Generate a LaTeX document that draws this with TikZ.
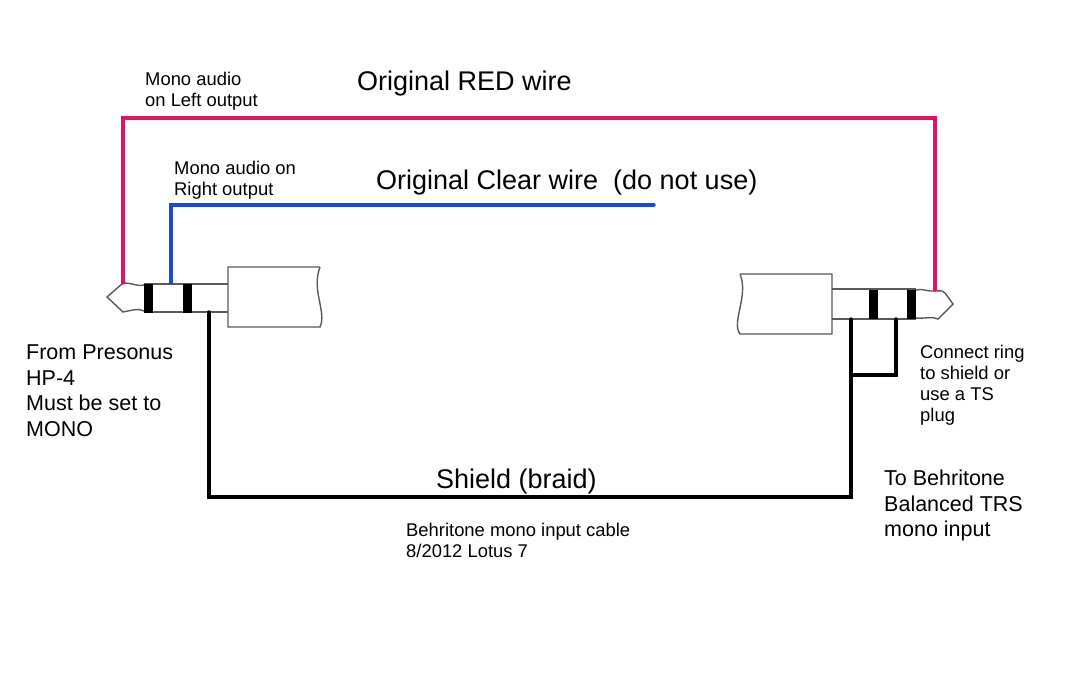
\documentclass[tikz,border=0pt]{standalone}
\usepackage{fontspec}
\setmainfont{Liberation Sans}
\begin{document}
\begin{tikzpicture}[x=1pt, y=-1pt,
    plugline/.style={draw=black!65, line width=1.4pt},
    band/.style={fill=black, draw=none, inner sep=0pt, minimum width=9pt, minimum height=29pt},
    wire/.style={line width=3.4pt, line cap=round, line join=miter},
    title/.style={anchor=base west, inner sep=0pt, font=\fontsize{27}{30}\selectfont},
    midlabel/.style={anchor=north west, inner sep=0pt, align=left, font=\fontsize{21.5}{25.4}\selectfont},
    smalllabel/.style={anchor=north west, inner sep=0pt, align=left, font=\fontsize{18.4}{21}\selectfont}
]
\useasboundingbox (0,0) rectangle (1079,683);

% left plug
\draw[plugline] (144,284) -- (228,284) (144,312) -- (228,312);
\draw[plugline] (144,285) .. controls (138,287) and (134,283) .. (123,283) -- (107,297) -- (123,312) .. controls (134,310) and (138,308) .. (144,311);
\draw[plugline] (320,267) -- (228,267) -- (228,327) -- (320,327) .. controls (327,312) and (311,290) .. (320,267);
\node[band] (bandLa) at (148.5,298) {};
\node[band] (bandLb) at (187,298) {};

% right plug
\draw[plugline] (832,289) -- (916,289) (832,319) -- (916,319);
\draw[plugline] (916,290) .. controls (922,288) and (928,292) .. (935,291) .. controls (940,291) and (942,290) .. (945,293) -- (953,304) -- (938,319) .. controls (932,316) and (924,319) .. (916,318);
\draw[plugline] (740,274) -- (832,274) -- (832,334) -- (740,334) .. controls (731,322) and (749,296) .. (740,274);
\node[band] (bandRa) at (873.5,304) {};
\node[band] (bandRb) at (911.5,304) {};

% wires
\coordinate (redL) at (123,283);
\coordinate (redR) at (935,290);
\coordinate (blueL) at (171,283);
\coordinate (blueEnd) at (654,205);
\coordinate (shieldL) at (209,312);
\coordinate (shieldR) at (851,319);
\coordinate (ringR) at (896,319);
\coordinate (ringJoin) at (851,375);
\draw[wire, color={rgb,255:red,226;green,18;blue,96}] (redL) |- (redR |- 0,118) -- (redR);
\draw[wire, color={rgb,255:red,28;green,72;blue,218}] (blueL) |- (blueEnd);
\draw[wire, black] (shieldL) |- (shieldR |- 0,497) -- (shieldR);
\draw[wire, black] (ringJoin) -| (ringR);

% labels
\node[title] (redlabel) at (357,90) {Original RED wire};
\node[title] (clearlabel) at (376,189) {Original Clear wire\ \ (do not use)};
\node[title] (shieldlabel) at (436,488) {Shield (braid)};
\node[smalllabel] (monoleft) at (145,72) {Mono audio\\on Left output};
\node[smalllabel] (monoright) at (174,161) {Mono audio on\\Right output};
\node[midlabel] (fromlabel) at (26,345) {From Presonus\\HP-4\\Must be set to\\MONO};
\node[smalllabel] (ringlabel) at (920,345) {Connect ring\\to shield or\\use a TS\\plug};
\node[midlabel] (tolabel) at (884,470) {To Behritone\\Balanced TRS\\mono input};
\node[smalllabel] (cablelabel) at (406,523) {Behritone mono input cable\\8/2012 Lotus 7};
\end{tikzpicture}
\end{document}
